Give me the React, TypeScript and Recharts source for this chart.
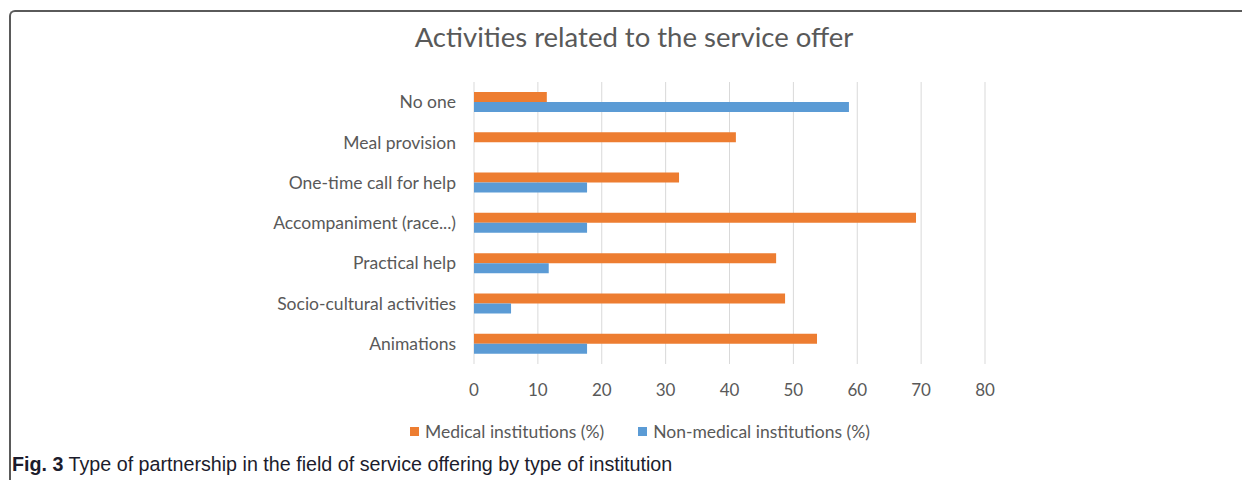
import React from 'react';
import { BarChart, Bar, XAxis, YAxis, CartesianGrid } from 'recharts';

const CATEGORIES = [
  'No one',
  'Meal provision',
  'One-time call for help',
  'Accompaniment (race...)',
  'Practical help',
  'Socio-cultural activities',
  'Animations',
];
const MEDICAL = [11.4, 41.0, 32.1, 69.2, 47.3, 48.7, 53.7];
const NON_MEDICAL = [58.7, 0, 17.7, 17.7, 11.7, 5.8, 17.7];
const X_TICKS = [0, 10, 20, 30, 40, 50, 60, 70, 80];

const SERIES = [
  { key: 'medical', name: 'Medical institutions (%)', color: '#ED7D31' },
  { key: 'nonMedical', name: 'Non-medical institutions (%)', color: '#5B9BD5' },
];

const data = CATEGORIES.map((name, i) => ({
  name,
  medical: MEDICAL[i],
  nonMedical: NON_MEDICAL[i],
}));

const FONT = 'Lato, sans-serif';
const TEXT = '#595959';

const CustomLegend = () => (
  <div
    style={{
      position: 'absolute',
      top: 421,
      left: 0,
      width: 1280,
      display: 'flex',
      justifyContent: 'center',
      gap: 34,
      fontFamily: FONT,
      fontSize: 17.5,
      color: TEXT,
    }}
  >
    {SERIES.map((s) => (
      <div key={s.key} style={{ display: 'flex', alignItems: 'center' }}>
        {/* Color indicator */}
        <div style={{ width: 9, height: 9, background: s.color, marginRight: 6 }} />
        <span>{s.name}</span>
      </div>
    ))}
  </div>
);

const App = () => {
  return (
    <div style={{ position: 'absolute', top: 0, left: 0, width: 1242, height: 480, overflow: 'hidden', background: '#fff' }}>
      {/* figure frame */}
      <div
        style={{
          position: 'absolute',
          top: 10,
          left: 9,
          width: 1260,
          height: 500,
          borderTop: '2px solid #5a5a5a',
          borderLeft: '2px solid #5a5a5a',
          borderTopLeftRadius: 6,
        }}
      />
      <div
        style={{
          position: 'absolute',
          top: 20,
          left: 0,
          width: 1268,
          textAlign: 'center',
          fontFamily: FONT,
          fontSize: 27.5,
          color: TEXT,
        }}
      >
        Activities related to the service offer
      </div>
      <div style={{ position: 'absolute', top: 0, left: 0 }}>
        <BarChart
          width={1242}
          height={480}
          data={data}
          layout="vertical"
          barGap={0}
          barSize={10}
          margin={{ top: 82, right: 257, bottom: 76, left: 0 }}
        >
          <CartesianGrid horizontal={false} stroke="#d9d9d9" />
          <XAxis
            type="number"
            domain={[0, 80]}
            ticks={X_TICKS}
            axisLine={false}
            tickLine={false}
            tickMargin={14}
            height={40}
            tick={{ fill: TEXT, fontSize: 17, fontFamily: FONT }}
          />
          <YAxis
            type="category"
            dataKey="name"
            width={474}
            axisLine={false}
            tickLine={false}
            tickMargin={12}
            tick={{ fill: TEXT, fontSize: 17.5, fontFamily: FONT }}
          />
          {SERIES.map((s) => (
            <Bar key={s.key} dataKey={s.key} name={s.name} fill={s.color} isAnimationActive={false} />
          ))}
        </BarChart>
      </div>
      <CustomLegend />
      <div
        style={{
          position: 'absolute',
          top: 453,
          left: 12,
          fontFamily: '"Liberation Sans Narrow", "Liberation Sans", sans-serif',
          fontSize: 19.7,
          color: '#1c1c2c',
        }}
      >
        <b>Fig. 3</b> Type of partnership in the field of service offering by type of institution
      </div>
    </div>
  );
};

export default App;
